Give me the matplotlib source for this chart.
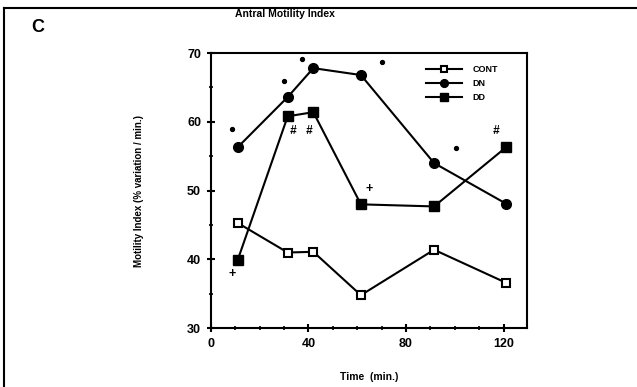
import numpy as np
import matplotlib.pyplot as plt
from matplotlib.ticker import MultipleLocator

plt.rcParams['font.family'] = ['Liberation Sans', 'DejaVu Sans']
plt.rcParams['font.weight'] = 'bold'

# data
time = [11, 31.5, 42, 61.5, 91.5, 121]
cont = [45.3, 41.0, 41.1, 34.8, 41.4, 36.6]
dn = [56.3, 63.6, 67.8, 66.8, 54.0, 48.1]
dd = [39.9, 60.8, 61.4, 48.0, 47.7, 56.3]

# significance marks
dot_t = [8.6, 30, 37.4, 70, 100.4]
dot_v = [59.0, 66.0, 69.1, 68.7, 56.2]
hash_t = [33.7, 40.3, 117]
hash_v = [58.6, 58.7, 58.6]
plus_t = [8.6, 65]
plus_v = [37.9, 50.3]

fig = plt.figure(figsize=(6.37, 3.87), dpi=100)
ax = fig.add_axes([0.331, 0.152, 0.496, 0.711])

ax.plot(time, cont, '-s', color='black', mfc='white', mec='black', ms=6, mew=1.5, lw=1.5, label='CONT')
ax.plot(time, dn, '-o', color='black', ms=7, lw=1.5, label='DN')
ax.plot(time, dd, '-s', color='black', ms=7, lw=1.5, label='DD')

ax.plot(dot_t, dot_v, 'o', color='black', ms=3, mew=0.8)
for t, v in zip(hash_t, hash_v):
    ax.text(t, v, '#', ha='center', va='center', fontsize=8.5, fontweight='bold', style='italic')
for t, v in zip(plus_t, plus_v):
    ax.text(t, v, '+', ha='center', va='center', fontsize=9, fontweight='bold')

ax.set_xlim(0, 129.5)
ax.set_ylim(30, 70)
ax.xaxis.set_major_locator(MultipleLocator(40))
ax.xaxis.set_minor_locator(MultipleLocator(10))
ax.yaxis.set_major_locator(MultipleLocator(10))
ax.yaxis.set_minor_locator(MultipleLocator(5))
ax.tick_params(which='major', direction='inout', length=6, width=1.5, labelsize=9, pad=4)
ax.tick_params(which='minor', direction='inout', length=3, width=1.2)
ax.tick_params(top=False, right=False, which='both')
for lab in ax.get_xticklabels() + ax.get_yticklabels():
    lab.set_fontweight('bold')
for s in ax.spines.values():
    s.set_linewidth(1.5)

ax.set_xlabel('Time  (min.)', fontsize=7.5, fontweight='bold', labelpad=16)
ax.set_ylabel('Motility Index (% variation / min.)', fontsize=7, fontweight='bold', labelpad=31)
fig.text(0.447, 0.963, 'Antral Motility Index', ha='center', va='center', fontsize=7.5, fontweight='bold')

leg = ax.legend(loc='upper left', bbox_to_anchor=(0.655, 0.985), frameon=False, fontsize=6.5,
                handlelength=4.0, labelspacing=0.55, handletextpad=1.2, markerscale=0.8)
for t in leg.get_texts():
    t.set_fontweight('bold')

fig.text(0.06, 0.93, 'C', fontsize=13, fontweight='bold', ha='center', va='center')
fig.add_artist(plt.Line2D([0.006, 0.006], [0, 0.98], color='black', lw=1.5))
fig.add_artist(plt.Line2D([0.006, 1.0], [0.98, 0.98], color='black', lw=1.5))

fig.savefig('out.png', dpi=100)
